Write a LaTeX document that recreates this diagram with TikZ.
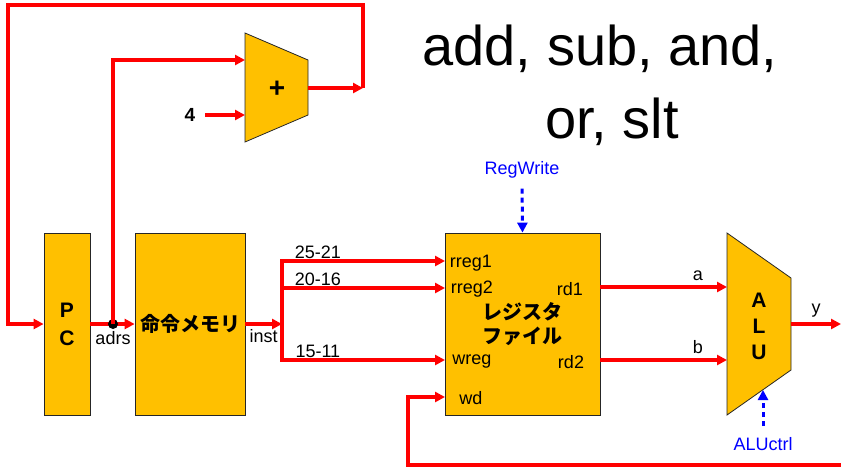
\documentclass[tikz,border=0pt]{standalone}
\usepackage{fontspec}
\setmainfont{Liberation Sans}
\newfontfamily\jpfont{Noto Sans CJK JP}
\usetikzlibrary{arrows.meta}
\definecolor{unitfill}{RGB}{255,192,0}
\definecolor{ctrlblue}{RGB}{0,0,255}

\begin{document}
\begin{tikzpicture}[x=1pt, y=-1pt,
                    >={Triangle[length=10pt, width=10pt]},
                    unit/.style = {draw=black!85, fill=unitfill, line width=0.8pt},
                    box/.style = {unit, minimum width=#1, minimum height=182pt, inner sep=0pt, align=center,
                                  font=\fontsize{20}{26}\selectfont\bfseries},
                    wire/.style = {red, line width=3.3pt},
                    ctrl/.style = {ctrlblue, line width=3pt, dash pattern=on 5pt off 4pt},
                    lbl/.style = {inner sep=1pt, text=black, font=\fontsize{18}{22}\selectfont},
                    ctrllbl/.style = {lbl, text=ctrlblue},
                    dot/.style = {circle, fill=black, inner sep=0pt, minimum size=10pt}
                ]
                    \useasboundingbox (0,0) rectangle (841,467);

                    % units
                    \node[box=46pt, font=\fontsize{21}{28}\selectfont\bfseries] (pc) at (67,324) {P\\C};
                    \node[box=110pt] (mem) at (190,324) {\jpfont 命令メモリ};
                    \node[box=155pt, font=\fontsize{20}{24}\selectfont\bfseries] (rf) at (522.5,324) {\jpfont レジスタ\\\jpfont ファイル};
                    \draw[unit] (245,33) -- (308,60) -- (308,115) -- (245,142) -- cycle;
                    \node[font=\fontsize{28}{28}\selectfont\bfseries] (plus) at (277,89) {+};
                    \draw[unit] (727,233) -- (791,278) -- (791,370) -- (727,415) -- cycle;
                    \node[align=center, font=\fontsize{21}{26}\selectfont\bfseries] (alu) at (759,326) {A\\L\\U};

                    % ports
                    \coordinate (addin1) at (245,60);
                    \coordinate (addin2) at (245,115);
                    \coordinate (addout) at (308,88);
                    \coordinate (nextpc) at (363,88);
                    \coordinate (loop) at (8,5);
                    \coordinate (bus) at (282,324);
                    \coordinate (rreg1) at (445,261);
                    \coordinate (rreg2) at (445,288);
                    \coordinate (wreg) at (445,360);
                    \coordinate (wd) at (445,397);
                    \coordinate (rd1) at (600,287);
                    \coordinate (rd2) at (600,360);
                    \coordinate (alua) at (727,287);
                    \coordinate (alub) at (727,360);
                    \coordinate (aluy) at (791,324);
                    \coordinate (aluc) at (763,390);
                    \coordinate (yout) at (841,324);
                    \coordinate (wdturn) at (408,465);
                    \coordinate (fb) at (841,465);

                    \node[lbl] at (471,263) {rreg1};
                    \node[lbl] at (472,289) {rreg2};
                    \node[lbl] at (472,362) {wreg};
                    \node[lbl] at (471,398) {wd};
                    \node[lbl] at (570,289) {rd1};
                    \node[lbl] at (571,362) {rd2};

                    % pc loop
                    \draw[wire, ->] (addout) -- (nextpc);
                    \draw[wire, ->] (nextpc) |- (loop) |- (pc.west);
                    \draw[wire, ->] (pc.east) -- (mem.west);
                    \node[dot] (adrs) at (113,324) {};
                    \node[lbl] at (113,338) {adrs};
                    \draw[wire, ->] (adrs.center) |- (addin1);
                    \node[lbl, font=\fontsize{19}{22}\selectfont\bfseries] (four) at (190,115) {4};
                    \draw[wire, ->, shorten <=9pt] (four.east) -- (addin2);

                    % instruction fields
                    \draw[wire, ->] (mem.east) -- node[lbl, below=3pt] {inst} (bus);
                    \draw[wire, ->] (bus) |- node[lbl, above, pos=0.61] {25-21} (rreg1);
                    \draw[wire, ->] (bus) |- node[lbl, above, pos=0.61] {20-16} (rreg2);
                    \draw[wire, ->] (bus) |- node[lbl, above, pos=0.61] {15-11} (wreg);
                    \draw[wire, ->] (fb) -- (wdturn) |- (wd);

                    % alu
                    \draw[wire, ->] (rd1) -- node[lbl, above=4pt, pos=0.77] {a} (alua);
                    \draw[wire, ->] (rd2) -- node[lbl, above=4pt, pos=0.77] {b} (alub);
                    \draw[wire, ->] (aluy) -- node[lbl, above=4pt] {y} (yout);

                    % control
                    \node[ctrllbl] (regwrite) at (522,170) {RegWrite};
                    \draw[ctrl, ->, shorten <=9pt] (regwrite.south) -- (rf.north);
                    \node[ctrllbl] (aluctrl) at (763,444) {ALUctrl};
                    \draw[ctrl, ->, shorten <=10pt] (aluctrl.north) -- (aluc);

                    % title
                    \node[anchor=base, font=\fontsize{56}{70}\selectfont] (title1) at (600,65) {add, sub, and,};
                    \node[anchor=base, font=\fontsize{56}{70}\selectfont] (title2) at (612,138) {or, slt};
                \end{tikzpicture}
\end{document}
